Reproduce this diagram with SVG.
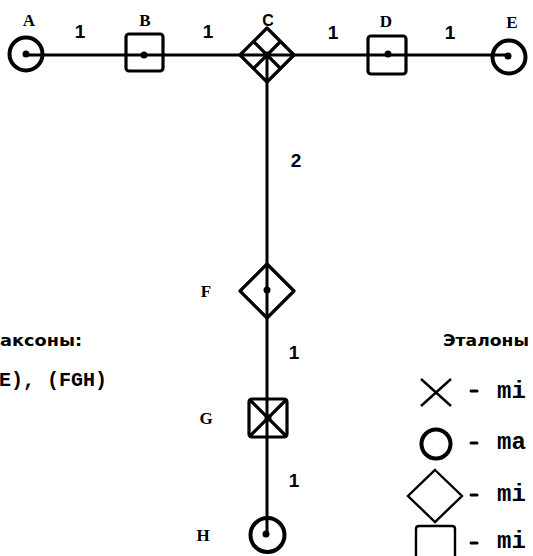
<svg xmlns="http://www.w3.org/2000/svg" width="533" height="556" viewBox="0 0 533 556">
  <style>
    .edge { stroke: #000; stroke-width: 3; fill: none; stroke-linecap: round; }
    .shape { stroke: #000; stroke-width: 3.2; fill: none; stroke-linejoin: round; }
    .ring { stroke: #000; stroke-width: 4; fill: none; }
    .thin { stroke: #000; stroke-width: 2.4; fill: none; }
    .dot { fill: #000; }
    .lbl { font-family: "Liberation Serif", "Times New Roman", serif; font-weight: bold; font-size: 17px; fill: #000; text-anchor: middle; }
    .lblc { font-family: "Liberation Sans", Arial, sans-serif; font-weight: bold; font-size: 16px; fill: #000; text-anchor: middle; }
    .w { font-family: "Liberation Sans", Arial, sans-serif; font-weight: bold; font-size: 19px; fill: #000; text-anchor: middle; }
    .ru { font-family: "DejaVu Sans", "Liberation Sans", sans-serif; font-weight: bold; font-size: 16px; fill: #000; }
    .tt { font-family: "Liberation Mono", "Courier New", monospace; font-weight: bold; font-size: 20px; fill: #000; }
    .lg { font-family: "Liberation Mono", "Courier New", monospace; font-weight: bold; font-size: 24px; fill: #000; }
  </style>

  <!-- connectors: main horizontal chain and vertical branch -->
  <g id="connectors">
    <line class="edge" x1="26" y1="55" x2="509" y2="55"/>
    <line class="edge" x1="267" y1="55" x2="267" y2="535"/>
    <!-- edge weights -->
    <text class="w" x="80" y="38">1</text>
    <text class="w" x="208" y="38">1</text>
    <text class="w" x="333" y="39">1</text>
    <text class="w" x="450" y="39">1</text>
    <text class="w" x="296" y="167">2</text>
    <text class="w" x="294" y="359">1</text>
    <text class="w" x="294" y="487">1</text>
  </g>

  <g id="node-A">
    <circle class="ring" cx="26" cy="54" r="16.5"/>
    <circle class="dot" cx="26" cy="54" r="3.5"/>
    <text class="lbl" x="29" y="26">A</text>
  </g>

  <g id="node-B">
    <rect class="shape" x="126" y="34" width="37" height="37" rx="3"/>
    <circle class="dot" cx="144" cy="55" r="3.5"/>
    <text class="lbl" x="145" y="26">B</text>
  </g>

  <g id="node-C">
    <polygon class="shape" points="267,28 294,55 267,82 240,55"/>
    <line class="shape" x1="253.5" y1="41.5" x2="280.5" y2="68.5"/>
    <line class="shape" x1="280.5" y1="41.5" x2="253.5" y2="68.5"/>
    <circle class="dot" cx="267" cy="55" r="3.5"/>
    <text class="lblc" x="268" y="26">C</text>
  </g>

  <g id="node-D">
    <rect class="shape" x="368" y="36" width="38" height="38" rx="3"/>
    <circle class="dot" cx="388" cy="54" r="3.5"/>
    <text class="lbl" x="386" y="27">D</text>
  </g>

  <g id="node-E">
    <circle class="ring" cx="509" cy="57" r="16.5"/>
    <circle class="dot" cx="508" cy="56" r="3.5"/>
    <text class="lbl" x="512" y="28">E</text>
  </g>

  <g id="node-F">
    <polygon class="shape" points="267,264 294,291 267,318 240,291"/>
    <circle class="dot" cx="267" cy="290" r="3.5"/>
    <text class="lbl" x="206" y="297">F</text>
  </g>

  <g id="node-G">
    <rect class="shape" x="249" y="399" width="38" height="38" rx="3"/>
    <line class="shape" x1="249" y1="399" x2="287" y2="437"/>
    <line class="shape" x1="287" y1="399" x2="249" y2="437"/>
    <circle class="dot" cx="268" cy="418" r="3.5"/>
    <text class="lbl" x="206" y="424">G</text>
  </g>

  <g id="node-H">
    <circle class="ring" cx="267.5" cy="535" r="17"/>
    <circle class="dot" cx="266" cy="534" r="3.5"/>
    <text class="lbl" x="203" y="541">H</text>
  </g>

  <!-- taxa list -->
  <g id="taxa">
    <text class="ru" x="0" y="346" textLength="82" lengthAdjust="spacingAndGlyphs">аксоны:</text>
    <text class="tt" x="-1" y="386">E), (FGH)</text>
  </g>

  <!-- legend -->
  <g id="legend">
    <text class="ru" x="443" y="346" textLength="86" lengthAdjust="spacingAndGlyphs">Эталоны</text>

    <line class="thin" x1="421" y1="379" x2="451" y2="406"/>
    <line class="thin" x1="451" y1="379" x2="421" y2="406"/>
    <line class="edge" x1="471" y1="391" x2="477" y2="391"/>
    <text class="lg" x="497" y="398">mi</text>

    <circle class="ring" cx="436" cy="444" r="14.5"/>
    <line class="edge" x1="471" y1="443" x2="477" y2="443"/>
    <text class="lg" x="497" y="449">ma</text>

    <polygon class="thin" points="435,470 462,496 435,522 408,496"/>
    <line class="edge" x1="471" y1="495" x2="477" y2="495"/>
    <text class="lg" x="497" y="501">mi</text>

    <path class="thin" d="M416,560 V529 Q416,526 419,526 H452 Q455,526 455,529 V560"/>
    <line class="edge" x1="471" y1="543" x2="477" y2="543"/>
    <text class="lg" x="497" y="548">mi</text>
  </g>
</svg>
